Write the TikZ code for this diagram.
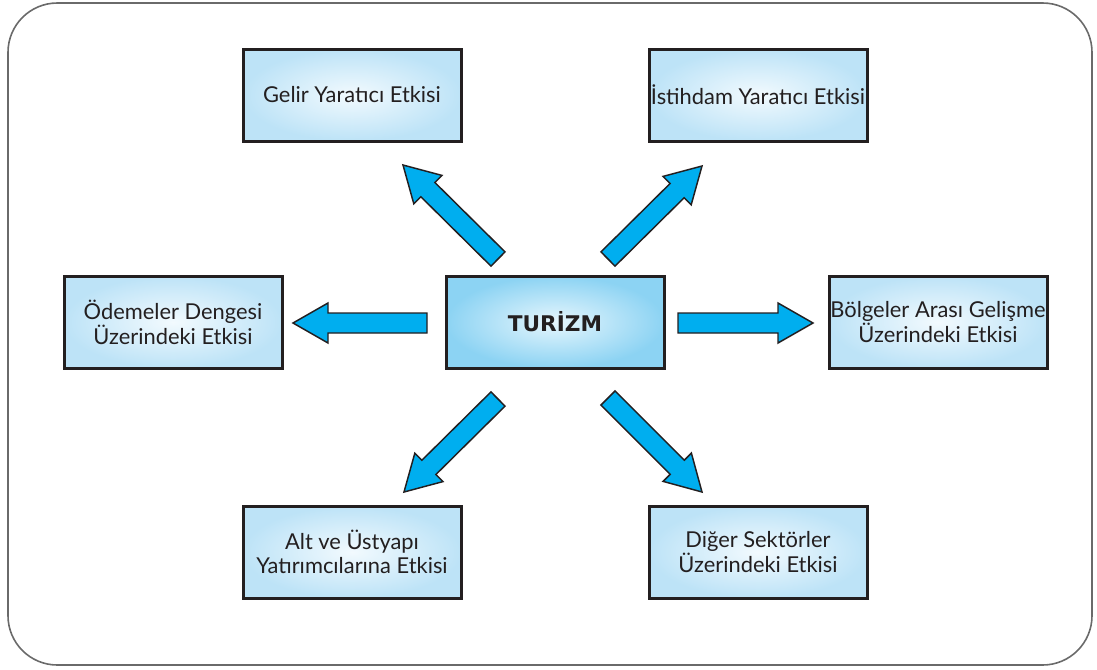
\documentclass[tikz,border=0pt]{standalone}
\usepackage{fontspec}
\setmainfont{Lato}
\newfontfamily\headfont{DejaVu Sans}
\usetikzlibrary{calc}
\definecolor{boxedge}{HTML}{BDE3F7}
\definecolor{boxmid}{HTML}{F2FAFE}
\definecolor{hubedge}{HTML}{8CD3F3}
\definecolor{hubmid}{HTML}{E6F6FD}
\definecolor{arrowblue}{HTML}{00AEEF}
\definecolor{ink}{HTML}{231F20}
\definecolor{framegray}{HTML}{6A6A6A}
\tikzset{
  effect/.style={draw=ink, line width=2.25pt, inner color=boxmid, outer color=boxedge,
    minimum width=163.5pt, minimum height=69pt, inner sep=1pt, align=center, text=ink,
    font=\fontsize{16.4}{17.5}\selectfont},
  hub/.style={effect, inner color=hubmid, outer color=hubedge,
    font=\headfont\bfseries\fontsize{16.2}{18}\selectfont},
  % wide block arrow from the start point (middle of the tail) to the tip
  blockarrow/.style={fill=arrowblue, draw=ink, line width=1.1pt, line join=miter,
    to path={
      -- ($(\tikztostart)!7.5pt!90:(\tikztotarget)$)
      -- ($($(\tikztotarget)!26.25pt!(\tikztostart)$)!7.5pt!90:(\tikztotarget)$)
      -- ($($(\tikztotarget)!26.25pt!(\tikztostart)$)!15pt!90:(\tikztotarget)$)
      -- (\tikztotarget)
      -- ($($(\tikztotarget)!26.25pt!(\tikztostart)$)!15pt!-90:(\tikztotarget)$)
      -- ($($(\tikztotarget)!26.25pt!(\tikztostart)$)!7.5pt!-90:(\tikztotarget)$)
      -- ($(\tikztostart)!7.5pt!-90:(\tikztotarget)$)
      -- cycle}},
  outerframe/.style={draw=framegray, line width=1.2pt, rounded corners=37pt}
}
\begin{document}
\begin{tikzpicture}[x=0.75pt, y=-0.75pt]
\useasboundingbox (0,0) rectangle (1097,669);
\draw[outerframe] (8,3) rectangle (1092,665);

\node[hub]    (hub)  at (555,322) {TURİZM};
\node[effect] (gelir) at (352,95)  {Gelir Yaratıcı Etkisi};
\node[effect] (istih) at (758,95)  {İstihdam Yaratıcı Etkisi};
\node[effect] (odeme) at (173,322) {Ödemeler Dengesi\\Üzerindeki Etkisi};
\node[effect] (bolge) at (938,322) {Bölgeler Arası Gelişme\\Üzerindeki Etkisi};
\node[effect] (altus) at (352,552) {Alt ve Üstyapı\\Yatırımcılarına Etkisi};
\node[effect] (diger) at (758,552) {Diğer Sektörler\\Üzerindeki Etkisi};

% tails sit just outside the hub, tips just short of each effect box
\coordinate (ulS) at ($(hub)+(-57,-63)$);
\coordinate (ulE) at ($(gelir)+(51,70)$);
\coordinate (urS) at ($(hub)+(53,-63)$);
\coordinate (urE) at ($(istih)+(-56,71)$);
\coordinate (lS)  at ($(hub)+(-128,1)$);
\coordinate (lE)  at ($(odeme)+(120,1)$);
\coordinate (rS)  at ($(hub)+(123,1)$);
\coordinate (rE)  at ($(bolge)+(-125,1)$);
\coordinate (dlS) at ($(hub)+(-57,77)$);
\coordinate (dlE) at ($(altus)+(52,-60)$);
\coordinate (drS) at ($(hub)+(53,76)$);
\coordinate (drE) at ($(diger)+(-56,-60)$);

\draw[blockarrow] (ulS) to (ulE);
\draw[blockarrow] (urS) to (urE);
\draw[blockarrow] (lS)  to (lE);
\draw[blockarrow] (rS)  to (rE);
\draw[blockarrow] (dlS) to (dlE);
\draw[blockarrow] (drS) to (drE);
\end{tikzpicture}
\end{document}
